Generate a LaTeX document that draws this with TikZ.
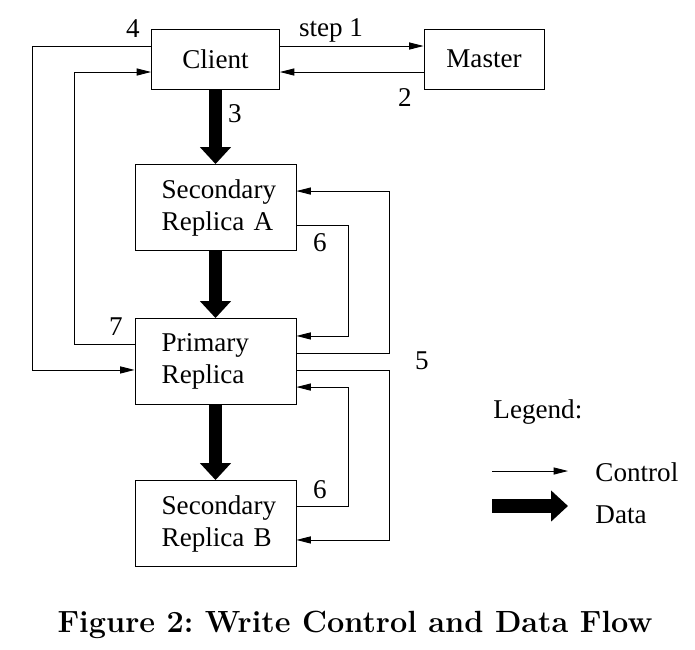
\documentclass[tikz,border=0pt]{standalone}
\usepackage{fontspec}
\newfontfamily\tnr{Liberation Serif}
\usetikzlibrary{arrows.meta,positioning}
\tikzset{
  box/.style={draw,thin,minimum width=57.6pt,minimum height=27pt,inner sep=0pt,align=center},
  rbox/.style={box,minimum width=72.45pt,minimum height=38.7pt,text width=48.45pt,align=left,inner xsep=12pt},
  ar/.style={-{Triangle[length=6.5pt,width=3.2pt]},thin},
  dar/.style={-{Triangle[length=7.6pt,width=13.5pt]},line width=5.9pt},
  lbl/.style={inner sep=0pt},
}
\begin{document}
\begin{tikzpicture}[x=0.45pt,y=-0.45pt,font=\tnr\fontsize{12.2}{14.4}\selectfont]
\useasboundingbox (0,0) rectangle (695,649);
% boxes
\node[box] (cl) at (215.5,59) {Client};
\node[box,minimum width=54pt] (ms) at (484,59) {Master};
\node[rbox] (sa) at (215.5,207.5) {Secondary\\Replica~A};
\node[rbox] (pr) at (215.5,361.5) {Primary\\Replica};
\node[rbox] (sb) at (215.5,523.5) {Secondary\\Replica~B};
% data flow
\draw[dar](cl)--(sa); \draw[dar](sa)--(pr); \draw[dar](pr)--(sb);
% control flow
\draw[ar]([yshift=5.85pt]cl.east)--([yshift=5.85pt]ms.west);
\draw[ar]([yshift=-5.85pt]ms.west)--([yshift=-5.85pt]cl.east);
\draw[ar]([yshift=5.85pt]cl.west)--++(-119,0)|-([yshift=-3.8pt]pr.west);
\draw[ar]([yshift=7.9pt]pr.west)--++(-60,0)|-([yshift=-5.85pt]cl.west);
\draw[ar]([yshift=3.8pt]pr.east)--++(93,0)|-([yshift=7.4pt]sa.east);
\draw[ar]([yshift=-3.8pt]pr.east)--++(93,0)|-([yshift=-7.4pt]sb.east);
\draw[ar]([yshift=-7.9pt]sa.east)--++(52,0)|-([yshift=11.5pt]pr.east);
\draw[ar]([yshift=7.9pt]sb.east)--++(52,0)|-([yshift=-11.5pt]pr.east);
% step numbers
\node[lbl] (n1) at (331,30) {step 1};
\node[lbl] (n2) at (405,98) {2};
\node[lbl] (n3) at (235,114) {3};
\node[lbl] (n4) at (133,29) {4};
\node[lbl] (n5) at (422,361) {5};
\node[lbl] (n6a) at (320,243) {6};
\node[lbl] (n6b) at (320,490) {6};
\node[lbl] (n7) at (116,327) {7};
% legend
\node[lbl,anchor=west] (lg) at (493,412) {Legend:};
\coordinate (c0) at (492,471); \coordinate (c1) at (568,471);
\coordinate (d0) at (492,506); \coordinate (d1) at (568,506);
\draw[ar](c0)--(c1); \draw[dar](d0)--(d1);
\node[lbl,anchor=west] (lc) at (595,472) {Control};
\node[lbl,anchor=west] (ld) at (595,515) {Data};
% caption
\node[lbl] (cap) at (355,625) {\rmfamily\bfseries\fontsize{13.8}{16}\selectfont Figure 2:\ Write Control and Data Flow};
\end{tikzpicture}
\end{document}
